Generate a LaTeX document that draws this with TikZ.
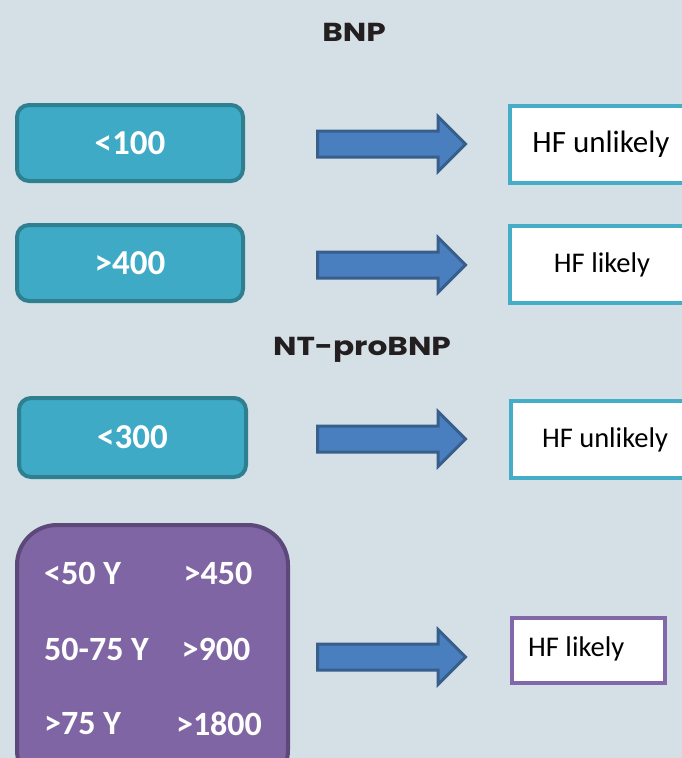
\documentclass[tikz,border=0pt]{standalone}
\usepackage{fontspec}
\setmainfont{Carlito}
\newfontfamily\titlefont{Poppins}[FakeStretch=1.2]
\usetikzlibrary{shapes.arrows}
\definecolor{bg}{HTML}{D5E0E6}
\definecolor{tealfill}{HTML}{3FAAC6}
\definecolor{tealdraw}{HTML}{2E7F90}
\definecolor{tealline}{HTML}{45ADC8}
\definecolor{arrowfill}{HTML}{4A7FBF}
\definecolor{arrowdraw}{HTML}{385E8C}
\definecolor{purplefill}{HTML}{7F65A3}
\definecolor{purpledraw}{HTML}{5C4879}
\definecolor{purpleline}{HTML}{8268A8}
\definecolor{titletext}{HTML}{231F20}
\tikzset{
  valbox/.style={draw=tealdraw, fill=tealfill, line width=4pt, rounded corners=12pt,
    minimum width=226pt, minimum height=76pt, outer sep=0pt, inner sep=0pt,
    text=white, font=\fontsize{35}{40}\selectfont\bfseries},
  resbox/.style={draw=tealline, fill=white, line width=4pt,
    minimum height=77pt, outer sep=0pt, inner sep=0pt,
    text=black, font=\fontsize{31}{36}\selectfont},
  smalltext/.style={font=\fontsize{28.5}{34}\selectfont},
  bigarrow/.style={single arrow, draw=arrowdraw, fill=arrowfill, line width=3pt,
    minimum height=148pt, minimum width=52pt, single arrow head extend=14.5pt,
    single arrow head indent=0pt, inner xsep=0pt, inner ysep=11.5pt, outer sep=0pt},
  heading/.style={text=titletext, font=\titlefont\bfseries\fontsize{26}{30}\selectfont},
  ptext/.style={text=white, font=\fontsize{34}{40}\selectfont\bfseries, inner sep=0pt}
}
\begin{document}
\begin{tikzpicture}[x=1pt,y=-1pt]
\useasboundingbox (0,0) rectangle (682,758);
\fill[bg] (0,0) rectangle (682,758);
\begin{scope}
\clip (0,0) rectangle (682,758);
\node[heading] (t1) at (354,32) {BNP};
\node[heading] (t2) at (362,350) {NT-proBNP};

\node[valbox] (b1) at (130,143) {<100};
\node[valbox] (b2) at (130,263) {>400};
\node[valbox, minimum width=227pt, minimum height=79pt] (b3) at (132.5,437.5) {<300};

\node[bigarrow] (a1) at (385,144) {};
\node[bigarrow] (a2) at (385,265) {};
\node[bigarrow] (a3) at (385,439) {};
\node[bigarrow] (a4) at (385,657) {};

\node[resbox, minimum width=182pt] (r1) at (601,144.5) {HF unlikely};
\node[resbox, smalltext, minimum width=184pt] (r2) at (602,264.5) {HF likely};
\node[resbox, smalltext, minimum width=188pt] (r3) at (605,439.5) {HF unlikely};
\node[resbox, draw=purpleline, minimum width=153pt, minimum height=65pt] (r4) at (588.5,650.5) {};
\node[anchor=west, inner sep=0pt, smalltext] (r4t) at (528,649) {HF likely};

\node[draw=purpledraw, fill=purplefill, line width=4pt, rounded corners=40pt,
  minimum width=271pt, minimum height=265pt, inner sep=0pt] (p) at (152.5,657.5) {};
\node[ptext, anchor=west] (p1l) at (44,573) {<50 Y};
\node[ptext] (p1r) at (218,573) {>450};
\node[ptext, anchor=west] (p2l) at (44,649) {50-75 Y};
\node[ptext] (p2r) at (216,649) {>900};
\node[ptext, anchor=west] (p3l) at (44,724) {>75 Y};
\node[ptext] (p3r) at (219,724) {>1800};
\end{scope}
\end{tikzpicture}
\end{document}
